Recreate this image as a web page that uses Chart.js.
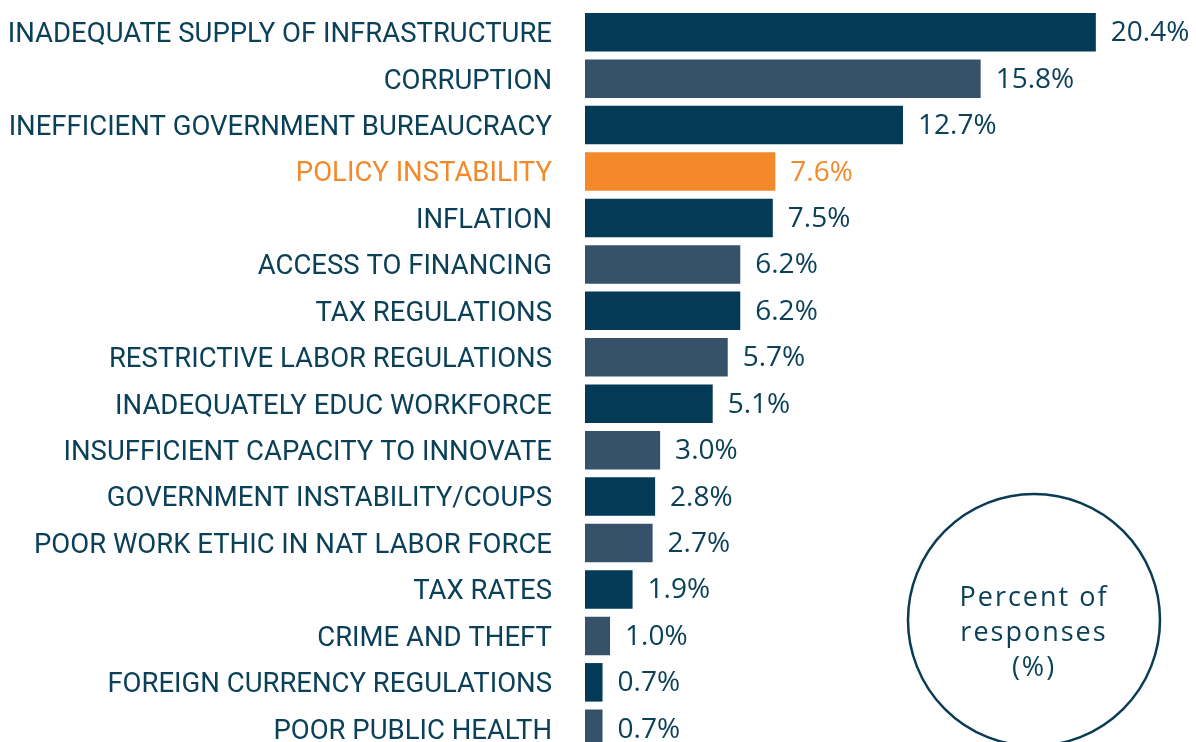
<!DOCTYPE html>
<html>
<head>
<meta charset="utf-8">
<title>Obstacles to doing business</title>
<script src="https://cdn.jsdelivr.net/npm/chart.js@4.4.1/dist/chart.umd.min.js"></script>
<style>
  html, body { margin: 0; padding: 0; background: #fff; overflow: hidden; }
  canvas { display: block; }
</style>
</head>
<body>
<canvas id="obstacles" width="1196" height="752"></canvas>
<script>
// categories, top to bottom
var obstacles = [
  'INADEQUATE SUPPLY OF INFRASTRUCTURE',
  'CORRUPTION',
  'INEFFICIENT GOVERNMENT BUREAUCRACY',
  'POLICY INSTABILITY',
  'INFLATION',
  'ACCESS TO FINANCING',
  'TAX REGULATIONS',
  'RESTRICTIVE LABOR REGULATIONS',
  'INADEQUATELY EDUC WORKFORCE',
  'INSUFFICIENT CAPACITY TO INNOVATE',
  'GOVERNMENT INSTABILITY/COUPS',
  'POOR WORK ETHIC IN NAT LABOR FORCE',
  'TAX RATES',
  'CRIME AND THEFT',
  'FOREIGN CURRENCY REGULATIONS',
  'POOR PUBLIC HEALTH'
];

// percent of responses
var shares = [20.4, 15.8, 12.7, 7.6, 7.5, 6.2, 6.2, 5.7, 5.1, 3.0, 2.8, 2.7, 1.9, 1.0, 0.7, 0.7];

var highlighted = 'POLICY INSTABILITY';

var navy   = '#033a55';
var slate  = '#36526a';
var orange = '#f3892a';
var ink    = '#0b4059';

var barColors = obstacles.map(function (name, i) {
  if (name === highlighted) return orange;
  return i % 2 === 0 ? navy : slate;
});
var textColors = obstacles.map(function (name) {
  return name === highlighted ? orange : ink;
});

// value labels at the end of each bar
var valueLabels = {
  id: 'valueLabels',
  afterDatasetsDraw: function (chart) {
    var ctx = chart.ctx;
    var meta = chart.getDatasetMeta(0);
    ctx.save();
    ctx.font = '28px "Open Sans"';
    ctx.textAlign = 'left';
    ctx.textBaseline = 'middle';
    meta.data.forEach(function (bar, i) {
      ctx.fillStyle = textColors[i];
      ctx.fillText(shares[i].toFixed(1) + '%', bar.x + 15, bar.y + 1);
    });
    ctx.restore();
  }
};

// round unit badge in the lower right
var unitBadge = {
  id: 'unitBadge',
  afterDraw: function (chart) {
    var ctx = chart.ctx;
    var cx = 1034, cy = 620, r = 126;
    ctx.save();
    ctx.beginPath();
    ctx.arc(cx, cy, r, 0, Math.PI * 2);
    ctx.lineWidth = 2.5;
    ctx.strokeStyle = '#0a3b55';
    ctx.stroke();
    ctx.fillStyle = ink;
    ctx.font = '27px "Open Sans"';
    ctx.letterSpacing = '2px';
    ctx.textAlign = 'center';
    ctx.textBaseline = 'middle';
    ctx.fillText('Percent of', cx, 598);
    ctx.fillText('responses', cx, 633);
    ctx.fillText('(%)', cx, 668);
    ctx.restore();
  }
};

var chart = new Chart(document.getElementById('obstacles'), {
  type: 'bar',
  data: {
    labels: obstacles,
    datasets: [{
      data: shares,
      backgroundColor: barColors,
      borderWidth: 0,
      categoryPercentage: 0.83,
      barPercentage: 1
    }]
  },
  options: {
    indexAxis: 'y',
    responsive: false,
    animation: false,
    layout: { padding: { top: 9, right: 0, bottom: 0, left: 0 } },
    plugins: {
      legend: { display: false },
      tooltip: { enabled: false }
    },
    scales: {
      x: {
        display: false,
        min: 0,
        max: 24.4
      },
      y: {
        border: { display: false },
        grid: { display: false, drawTicks: false },
        afterFit: function (scale) {
          // fixed gutter for the labels, no extra room above/below the bars
          scale.width = 585;
          scale.paddingTop = 0;
          scale.paddingBottom = 0;
        },
        ticks: {
          padding: 33,
          labelOffset: 3,
          autoSkip: false,
          color: textColors,
          font: { family: 'Roboto', size: 27.5 }
        }
      }
    }
  },
  plugins: [valueLabels, unitBadge]
});
</script>
</body>
</html>
